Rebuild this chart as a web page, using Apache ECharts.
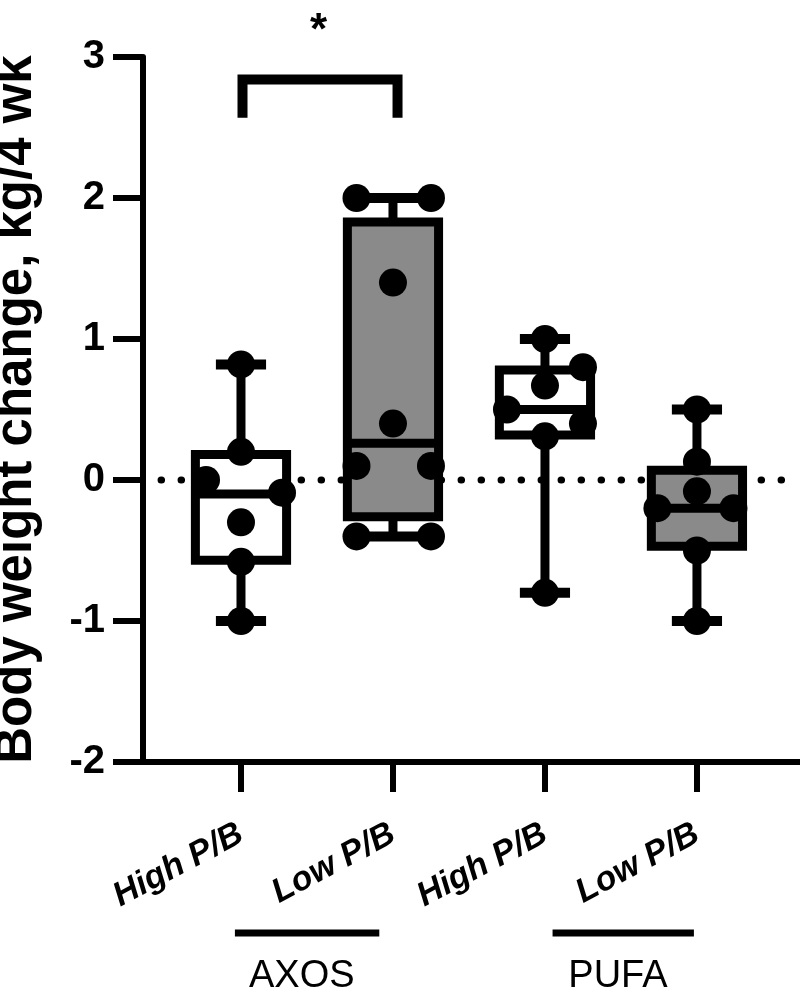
<!DOCTYPE html>
<html>
<head>
<meta charset="utf-8">
<script src="https://cdn.jsdelivr.net/npm/echarts@6/dist/echarts.min.js"></script>
<style>
html,body{margin:0;padding:0;background:#fff;}
#chart{width:800px;height:998px;}
</style>
</head>
<body>
<div id="chart"></div>
<script>
// ---- data ----
const categories = ['High P/B', 'Low P/B', 'High P/B', 'Low P/B'];
const groupNames = ['AXOS', 'PUFA'];
const groupSpans = [[-0.04, 0.91], [2.05, 2.98]];
const groupLabelPos = [0.40, 2.48];
const yTicks = [-2, -1, 0, 1, 2, 3];

const boxMin    = [-1.00, -0.40, -0.80, -1.00];
const boxQ1     = [-0.57, -0.26,  0.32, -0.47];
const boxMedian = [-0.10,  0.26,  0.50, -0.20];
const boxQ3     = [ 0.18,  1.83,  0.78,  0.07];
const boxMax    = [ 0.82,  2.00,  1.00,  0.50];

const highAXOS       = [0.82, 0.20, 0.00, -0.09, -0.30, -0.58, -1.00];
const highAXOSJitter = [0, 0, -0.23, 0.27, 0, 0, 0];
const lowAXOS        = [2.00, 2.00, 1.40, 0.40, 0.10, 0.10, -0.40, -0.40];
const lowAXOSJitter  = [-0.24, 0.25, 0, 0, -0.24, 0.25, -0.24, 0.25];
const highPUFA       = [1.00, 0.80, 0.67, 0.50, 0.40, 0.31, -0.80];
const highPUFAJitter = [0, 0.25, 0, -0.25, 0.25, 0, 0];
const lowPUFA        = [0.50, 0.13, -0.08, -0.20, -0.20, -0.50, -1.00];
const lowPUFAJitter  = [0, 0, 0, -0.26, 0.24, 0, 0];

const sigPair = [0.01, 1.03];
const sigLevels = [2.57, 2.84];
const sigStarPos = [0.51, 3.18];
const sigText = '*';

const boxFill = ['#ffffff', '#8a8a8a', '#ffffff', '#8a8a8a'];
// ---------------

const FONT = "'Liberation Sans', Arial, sans-serif";
const groupsPts = [[highAXOS, highAXOSJitter], [lowAXOS, lowAXOSJitter], [highPUFA, highPUFAJitter], [lowPUFA, lowPUFAJitter]];
const scatterData = [];
groupsPts.forEach(([vals, jit], i) => vals.forEach((v, k) => scatterData.push([i + jit[k], v])));
const boxData = categories.map((c, i) => [i, boxMin[i], boxQ1[i], boxMedian[i], boxQ3[i], boxMax[i]]);

const chart = echarts.init(document.getElementById('chart'));
const XMIN = -0.6447, XMAX = 3.678;
const option = {
  animation: false,
  backgroundColor: '#ffffff',
  grid: { left: 143, right: 0, top: 57, bottom: 236, containLabel: false, outerBoundsMode: 'none' },
  xAxis: {
    type: 'value', min: XMIN, max: XMAX,
    splitLine: { show: false },
    axisLine: { onZero: false, lineStyle: { color: '#000', width: 6 } },
    axisTick: { show: true, customValues: [0, 1, 2, 3], length: 30, lineStyle: { color: '#000', width: 6 } },
    axisLabel: {
      customValues: [0, 1, 2, 3],
      formatter: v => categories[Math.round(v)] || '',
      rotate: 28, margin: 70,
      fontFamily: FONT, fontSize: 34, fontWeight: 'bold', fontStyle: 'italic', color: '#000'
    }
  },
  yAxis: {
    type: 'value', min: -2, max: 3, interval: 1,
    name: 'Body weight change, kg/4 wk',
    nameLocation: 'middle', nameGap: 101,
    nameTextStyle: { fontFamily: FONT, fontSize: 51, fontWeight: 'bold', color: '#000' },
    splitLine: { show: false },
    axisLine: { onZero: false, lineStyle: { color: '#000', width: 6 } },
    axisTick: { length: 30, lineStyle: { color: '#000', width: 6 } },
    axisLabel: { margin: 38, fontFamily: FONT, fontSize: 40, fontWeight: 'bold', color: '#000' }
  },
  series: [
    {
      type: 'line', z: 1, silent: true, symbol: 'none',
      data: [[-0.526, 0], [3.65, 0]],
      lineStyle: { color: '#000', width: 7, type: [0.5, 19.5], cap: 'round' }
    },
    {
      type: 'custom', z: 2, silent: true,
      data: boxData,
      renderItem: function (params, api) {
        const i = api.value(0);
        const halfW = api.size([0.6, 0])[0] / 2;
        const capHalf = api.size([0.33, 0])[0] / 2;
        const c = v => api.coord([i, v]);
        const pMin = c(api.value(1)), pQ1 = c(api.value(2)), pMed = c(api.value(3)), pQ3 = c(api.value(4)), pMax = c(api.value(5));
        const x = pMin[0];
        const st = { stroke: '#000', lineWidth: 9, fill: null };
        return {
          type: 'group',
          children: [
            { type: 'line', shape: { x1: x, y1: pQ3[1], x2: x, y2: pMax[1] }, style: st },
            { type: 'line', shape: { x1: x, y1: pQ1[1], x2: x, y2: pMin[1] }, style: st },
            { type: 'line', shape: { x1: x - capHalf, y1: pMax[1], x2: x + capHalf, y2: pMax[1] }, style: { stroke: '#000', lineWidth: 10 } },
            { type: 'line', shape: { x1: x - capHalf, y1: pMin[1], x2: x + capHalf, y2: pMin[1] }, style: { stroke: '#000', lineWidth: 10 } },
            { type: 'rect', shape: { x: x - halfW, y: pQ3[1], width: 2 * halfW, height: pQ1[1] - pQ3[1] },
              style: { stroke: '#000', lineWidth: 9, fill: boxFill[params.dataIndex] } },
            { type: 'line', shape: { x1: x - halfW, y1: pMed[1], x2: x + halfW, y2: pMed[1] }, style: st }
          ]
        };
      }
    },
    {
      type: 'scatter', z: 3, silent: true,
      symbol: 'circle', symbolSize: 28,
      itemStyle: { color: '#000', opacity: 1 },
      data: scatterData
    },
    {
      type: 'line', z: 3, silent: true, symbol: 'none', clip: false,
      data: [[sigPair[0], sigLevels[0]], [sigPair[0], sigLevels[1]], [sigPair[1], sigLevels[1]], [sigPair[1], sigLevels[0]]],
      lineStyle: { color: '#000', width: 10, join: 'miter', cap: 'butt' }
    },
    {
      type: 'scatter', z: 3, silent: true, clip: false,
      symbolSize: 1, itemStyle: { color: 'rgba(0,0,0,0)', opacity: 1 },
      data: [sigStarPos],
      label: { show: true, position: 'inside', formatter: sigText, fontFamily: FONT, fontSize: 44, fontWeight: 'bold', color: '#000', opacity: 1 }
    }
  ]
};
chart.setOption(option);

// group annotations under the category labels
const gfx = [];
const yAxisBottom = chart.convertToPixel({ yAxisIndex: 0 }, -2);
groupNames.forEach((g, k) => {
  const x1 = chart.convertToPixel({ xAxisIndex: 0 }, groupSpans[k][0]);
  const x2 = chart.convertToPixel({ xAxisIndex: 0 }, groupSpans[k][1]);
  const xc = chart.convertToPixel({ xAxisIndex: 0 }, groupLabelPos[k]);
  gfx.push({ type: 'line', shape: { x1: x1, y1: yAxisBottom + 171, x2: x2, y2: yAxisBottom + 171 }, style: { stroke: '#000', lineWidth: 7 } });
  gfx.push({ type: 'text', x: xc, y: yAxisBottom + 215, style: { text: g, fontFamily: FONT, fontSize: 38, fill: '#000', align: 'center', verticalAlign: 'middle' } });
});
chart.setOption({ graphic: gfx });
</script>
</body>
</html>
